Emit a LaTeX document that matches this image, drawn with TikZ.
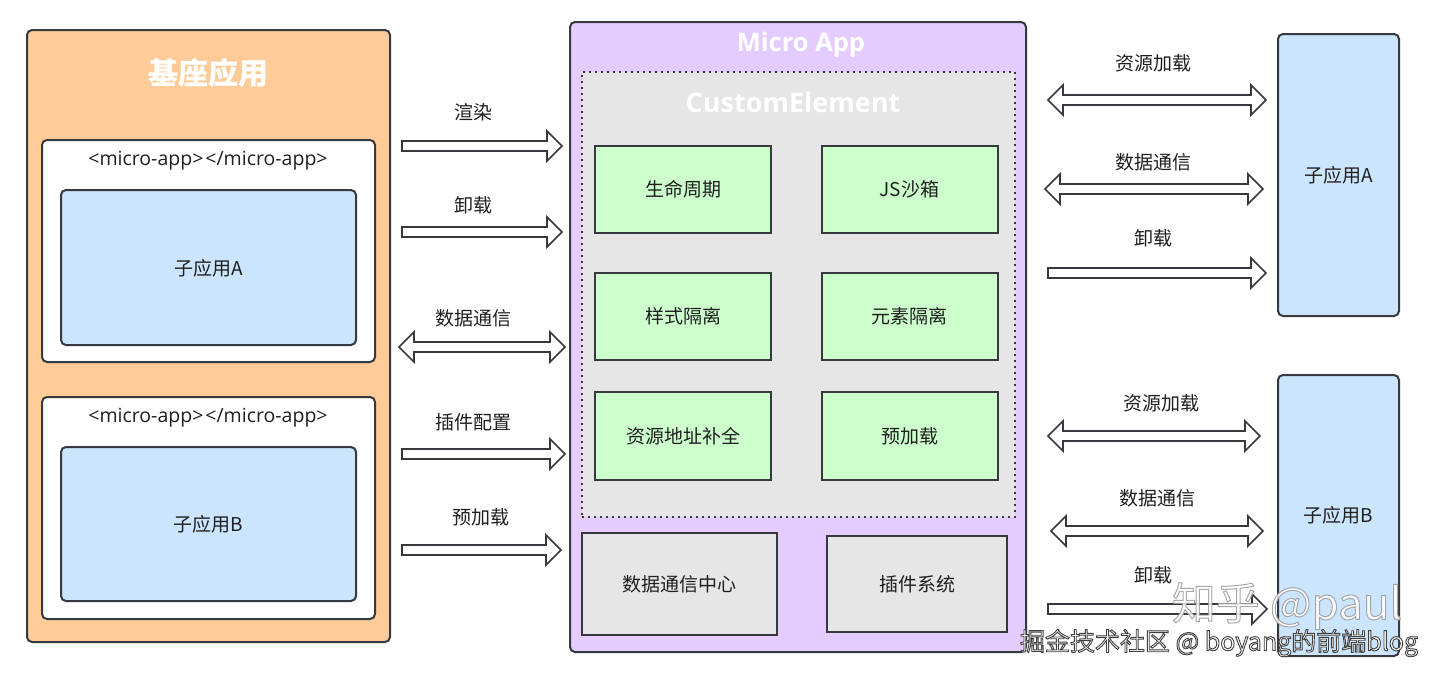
\documentclass[tikz,border=0pt]{standalone}
\usepackage{fontspec}
\setmainfont{Noto Sans CJK SC}
\newfontfamily\lat{Open Sans}
\usetikzlibrary{calc}
\definecolor{orangefill}{HTML}{FFCC99}
\definecolor{purplefill}{HTML}{E5CCFF}
\definecolor{greenfill}{HTML}{CCFFCC}
\definecolor{bluefill}{HTML}{CCE5FF}
\definecolor{grayfill}{HTML}{E6E6E6}
\definecolor{edge}{HTML}{36393D}
\definecolor{txt}{HTML}{1F1F1F}
\tikzset{
  box/.style={draw=edge, line width=2pt, inner sep=0pt, outer sep=0pt},
  roundbox/.style={box, rounded corners=5pt},
  lbl/.style={font=\fontsize{19}{21}\selectfont, text=txt, inner sep=0pt},
  tag/.style={font=\lat\fontsize{19.5}{22}\selectfont, text=txt, inner sep=0pt},
  whitetitle/.style={text=white, inner sep=0pt},
  fatline/.style={draw=edge, line width=1.7pt, fill=white, line join=miter},
}
\newcommand\rightfat[2]{%
  \draw[fatline] let \p1=(#1), \p2=(#2) in
   (\x1,\y1+5pt) -- (\x2-15pt,\y1+5pt) -- (\x2-15pt,\y1+15pt) -- (\x2,\y1)
   -- (\x2-15pt,\y1-15pt) -- (\x2-15pt,\y1-5pt) -- (\x1,\y1-5pt) -- cycle;}
\newcommand\bothfat[2]{%
  \draw[fatline] let \p1=(#1), \p2=(#2) in
   (\x1,\y1) -- (\x1+15pt,\y1+15pt) -- (\x1+15pt,\y1+5pt) -- (\x2-15pt,\y1+5pt)
   -- (\x2-15pt,\y1+15pt) -- (\x2,\y1) -- (\x2-15pt,\y1-15pt) -- (\x2-15pt,\y1-5pt)
   -- (\x1+15pt,\y1-5pt) -- (\x1+15pt,\y1-15pt) -- cycle;}
\begin{document}
\begin{tikzpicture}[x=1pt,y=-1pt]
\useasboundingbox[fill=white] (0,0) rectangle (1440,680);

% ---------------- base application ----------------
\node[roundbox, fill=orangefill, minimum width=363pt, minimum height=612pt] (base) at (208.5,336) {};
\node[whitetitle, font=\bfseries\fontsize{30}{33}\selectfont] (basetitle) at (208,73) {基座应用};
\node[roundbox, fill=white, minimum width=333pt, minimum height=222pt] (ma1) at (208.5,251) {};
\node[tag] (tag1) at (208,161) {<micro-app>\kern2pt</micro-app>};
\node[roundbox, fill=bluefill, minimum width=295pt, minimum height=155pt] (inA) at (208.5,267.5) {};
\node[lbl] (inAl) at (208.5,268) {子应用A};
\node[roundbox, fill=white, minimum width=333pt, minimum height=222pt] (ma2) at (208.5,508) {};
\node[tag] (tag2) at (208,418) {<micro-app>\kern2pt</micro-app>};
\node[roundbox, fill=bluefill, minimum width=295pt, minimum height=154pt] (inB) at (208.5,524) {};
\node[lbl] (inBl) at (208.5,524) {子应用B};

% ---------------- Micro App ----------------
\node[roundbox, fill=purplefill, minimum width=456pt, minimum height=630pt] (micro) at (798,337) {};
\node[whitetitle, font=\lat\bfseries\fontsize{25.5}{28}\selectfont] (microtitle) at (801,45) {Micro App};
\node[draw=edge, fill=grayfill, line width=1.8pt, dash pattern=on 1.8pt off 4.2pt,
      minimum width=433pt, minimum height=445pt, inner sep=0pt] (ce) at (798.5,294.5) {};
\node[whitetitle, font=\lat\bfseries\fontsize{27}{30}\selectfont] (cetitle) at (793,102) {CustomElement};

\node[box, fill=greenfill, minimum width=176pt, minimum height=87pt, lbl] (g1) at (683,189.5) {生命周期};
\node[box, fill=greenfill, minimum width=176pt, minimum height=87pt, lbl] (g2) at (909.5,189.5) {JS沙箱};
\node[box, fill=greenfill, minimum width=176pt, minimum height=87pt, lbl] (g3) at (683,316.5) {样式隔离};
\node[box, fill=greenfill, minimum width=176pt, minimum height=87pt, lbl] (g4) at (909.5,316.5) {元素隔离};
\node[box, fill=greenfill, minimum width=176pt, minimum height=88pt, lbl] (g5) at (683,436) {资源地址补全};
\node[box, fill=greenfill, minimum width=176pt, minimum height=88pt, lbl] (g6) at (910,436) {预加载};

\node[box, fill=grayfill, minimum width=195pt, minimum height=102pt, lbl] (d1) at (679.5,584) {数据通信中心};
\node[box, fill=grayfill, minimum width=180pt, minimum height=96pt, lbl] (d2) at (917,584) {插件系统};

% ---------------- sub applications ----------------
\node[roundbox, fill=bluefill, minimum width=121pt, minimum height=282pt, lbl] (subA) at (1338.5,175) {子应用A};
\node[roundbox, fill=bluefill, minimum width=121pt, minimum height=281pt, lbl] (subB) at (1338.5,515.5) {子应用B};

% ---------------- left arrows ----------------
\coordinate (a1s) at (402,146); \coordinate (a1e) at (562,146);
\coordinate (a2s) at (402,232); \coordinate (a2e) at (562,232);
\coordinate (a3s) at (399,347); \coordinate (a3e) at (565,347);
\coordinate (a4s) at (402,454); \coordinate (a4e) at (565,454);
\coordinate (a5s) at (402,550); \coordinate (a5e) at (561,550);
\rightfat{a1s}{a1e}
\rightfat{a2s}{a2e}
\bothfat{a3s}{a3e}
\rightfat{a4s}{a4e}
\rightfat{a5s}{a5e}
\node[lbl] (a1l) at (473,112) {渲染};
\node[lbl] (a2l) at (473,205) {卸载};
\node[lbl] (a3l) at (473,318) {数据通信};
\node[lbl] (a4l) at (473,422) {插件配置};
\node[lbl] (a5l) at (481,517) {预加载};

% ---------------- right arrows ----------------
\coordinate (b1s) at (1048,100); \coordinate (b1e) at (1266,100);
\coordinate (b2s) at (1045,189); \coordinate (b2e) at (1263,189);
\coordinate (b3s) at (1048,273); \coordinate (b3e) at (1266,273);
\coordinate (c1s) at (1048,436); \coordinate (c1e) at (1260,436);
\coordinate (c2s) at (1051,531); \coordinate (c2e) at (1263,531);
\coordinate (c3s) at (1048,609); \coordinate (c3e) at (1267,609);
\bothfat{b1s}{b1e}
\bothfat{b2s}{b2e}
\rightfat{b3s}{b3e}
\bothfat{c1s}{c1e}
\bothfat{c2s}{c2e}
\rightfat{c3s}{c3e}
\node[lbl] (b1l) at (1153,63) {资源加载};
\node[lbl] (b2l) at (1153,162) {数据通信};
\node[lbl] (b3l) at (1153,238) {卸载};
\node[lbl] (c1l) at (1161,403) {资源加载};
\node[lbl] (c2l) at (1157,498) {数据通信};
\node[lbl] (c3l) at (1153,575) {卸载};

% ---------------- watermarks ----------------
\node[inner sep=0pt, text=white, opacity=0.85, font=\fontsize{44}{48}\selectfont] (wm1) at (1287,606)
  {{\special{pdf:literal direct 0.6 0.6 0.6 RG 1 1 1 rg 2 Tr 1 w}知乎 @paul\special{pdf:literal direct 0 Tr}}};
\node[inner sep=0pt, text=white, font=\fontsize{25}{28}\selectfont] (wm2) at (1219,643)
  {{\special{pdf:literal direct 0.25 0.25 0.25 RG 1 1 1 rg 2 Tr 0.9 w}掘金技术社区 @ boyang的前端blog\special{pdf:literal direct 0 Tr}}};
\end{tikzpicture}
\end{document}
